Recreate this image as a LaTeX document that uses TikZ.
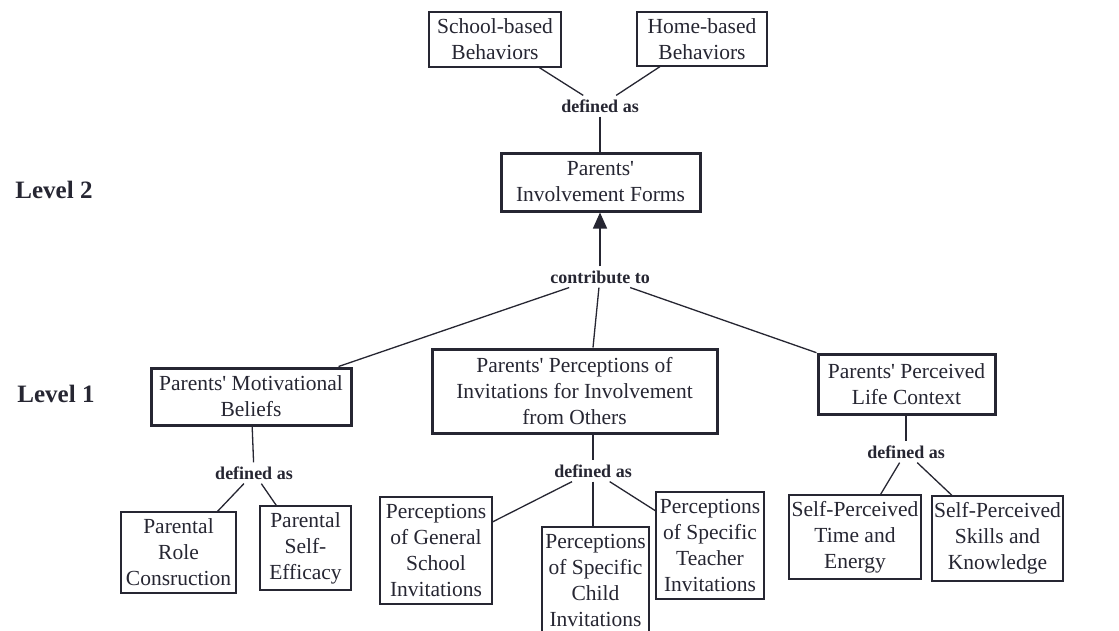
\documentclass[tikz,border=0pt]{standalone}
\usepackage{fontspec}
\setmainfont{Liberation Serif}
\usetikzlibrary{arrows.meta,calc}
\definecolor{ink}{RGB}{38,38,50}
\begin{document}
\begin{tikzpicture}[x=1pt,y=-1pt,
  every node/.style={text=ink},
  box/.style={draw=ink,line width=1.3pt,align=center,inner sep=0pt,
     font=\fontsize{21.5}{26}\selectfont},
  thickbox/.style={box,line width=3pt},
  lab/.style={font=\fontsize{18}{20}\selectfont\bfseries,inner sep=4pt},
  lvl/.style={font=\fontsize{25}{28}\selectfont\bfseries},
  conn/.style={draw=ink,line width=1.3pt}]
\useasboundingbox (0,0) rectangle (1119,630);
\fill[white] (0,0) rectangle (1119,630);
\clip (0,0) rectangle (1119,630);

\node[lvl] (lv2) at (54,190) {Level 2};
\node[lvl] (lv1) at (56,394) {Level 1};

\node[box,minimum width=132pt,minimum height=55pt] (school) at (495,39.5) {School-based\\Behaviors};
\node[box,minimum width=130pt,minimum height=54pt] (home) at (702,39) {Home-based\\Behaviors};
\node[lab] (def1) at (600,106) {defined as};
\node[thickbox,minimum width=199pt,minimum height=58pt] (forms) at (600.5,182) {Parents\textquotesingle\\Involvement Forms};
\node[lab] (contrib) at (600,277) {contribute to};

\node[thickbox,minimum width=200pt,minimum height=57pt] (motiv) at (251,396.5) {Parents\textquotesingle{} Motivational\\Beliefs};
\node[thickbox,minimum width=285pt,minimum height=84pt] (invit) at (574.5,391) {Parents\textquotesingle{} Perceptions of\\Invitations for Involvement\\from Others};
\node[thickbox,minimum width=177pt,minimum height=60pt] (life) at (906.5,384) {Parents\textquotesingle{} Perceived\\Life Context};

\node[lab] (def2) at (254,473) {defined as};
\node[lab] (def3) at (593,471) {defined as};
\node[lab] (def4) at (906,452) {defined as};

\node[box,minimum width=115pt,minimum height=81pt] (role) at (178.5,552.5) {Parental\\Role\\Consruction};
\node[box,minimum width=91pt,minimum height=84pt] (selfeff) at (305.5,548) {Parental\\Self-\\Efficacy};
\node[box,minimum width=112pt,minimum height=107pt] (general) at (436,550.5) {Perceptions\\of General\\School\\Invitations};
\node[box,minimum width=107pt,minimum height=106pt] (child) at (595.5,580) {Perceptions\\of Specific\\Child\\Invitations};
\node[box,minimum width=108pt,minimum height=107pt] (teacher) at (710,545.5) {Perceptions\\of Specific\\Teacher\\Invitations};
\node[box,minimum width=132pt,minimum height=84pt] (time) at (855,537) {Self-Perceived\\Time and\\Energy};
\node[box,minimum width=131pt,minimum height=85pt] (skills) at (997.5,538.5) {Self-Perceived\\Skills and\\Knowledge};

\draw[conn] (school) -- (def1);
\draw[conn] (home) -- (def1);
\draw[conn] (def1) -- (def1 |- forms.north);
\draw[conn,-{Triangle[length=16pt,width=14pt]}] (contrib) -- (contrib |- forms.south);
\draw[conn] (contrib) -- (motiv);
\draw[conn] (contrib) -- (def3 |- invit.north);
\draw[conn] (contrib) -- (life);
\draw[conn] (motiv) -- (def2);
\draw[conn] (def2) -- (role);
\draw[conn] (def2) -- (selfeff);
\draw[conn] (invit.south -| def3) -- (def3);
\draw[conn] (def3) -- (general);
\draw[conn] (def3) -- (def3 |- child.north);
\draw[conn] (def3) -- (teacher);
\draw[conn] (life.south -| def4) -- (def4);
\draw[conn] (def4) -- (time);
\draw[conn] (def4) -- (skills);
\end{tikzpicture}
\end{document}
